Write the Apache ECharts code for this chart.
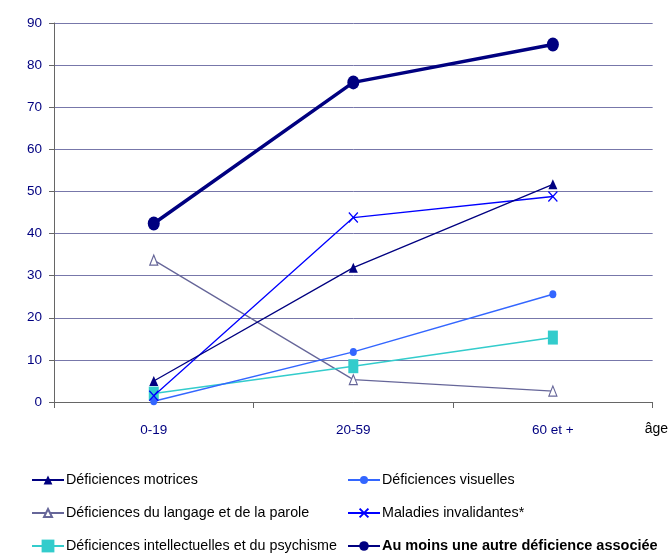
<!DOCTYPE html>
<html><head><meta charset="utf-8">
<script src="https://cdn.jsdelivr.net/npm/echarts@6/dist/echarts.min.js"></script>
<style>html,body{margin:0;padding:0;background:#fff}#c{width:671px;height:555px}</style>
</head><body><div id="c"></div>
<script>
const categories = ['0-19', '20-59', '60 et +'];
const yTicks = [0, 10, 20, 30, 40, 50, 60, 70, 80, 90];
const motrices = [5, 31.9, 51.7];
const visuelles = [0.2, 11.9, 25.6];
const langage = [33.7, 5.3, 2.6];
const maladies = [1.5, 43.8, 48.8];
const intellectuelles = [2, 8.5, 15.3];
const auMoins = [42.4, 75.9, 84.9];
const names = ['Déficiences motrices', 'Déficiences visuelles', 'Déficiences du langage et de la parole',
  'Maladies invalidantes*', 'Déficiences intellectuelles et du psychisme', 'Au moins une autre déficience associée'];

const FONT = '"Liberation Sans", Arial, sans-serif';
const crossPath = 'path://M0,0 L10,10 M10,0 L0,10';
function lg(name, left, cy, h, bold) {
  return {left: left, top: cy - 9, itemWidth: 32, itemHeight: h, padding: 0,
    textStyle: {fontFamily: FONT, fontSize: bold ? 14.5 : 14.3, lineHeight: 18, height: 18, color: '#000',
      fontWeight: bold ? 'bold' : 'normal', padding: [0, 0, 0, -3]},
    data: [name]};
}
const chart = echarts.init(document.getElementById('c'), null, {renderer: 'canvas'});
chart.setOption({
  animation: false,
  backgroundColor: '#fff',
  textStyle: {fontFamily: FONT},
  grid: {left: 54, right: 17, top: 23, bottom: 153},
  legend: [
    lg(names[0], 31, 480, 11), lg(names[2], 31, 513, 10), lg(names[4], 31, 546, 16),
    lg(names[1], 347, 480, 10), lg(names[3], 347, 513, 11), lg(names[5], 347, 546, 12, true)
  ],
  xAxis: {
    type: 'category', data: categories, boundaryGap: true,
    name: 'âge', nameLocation: 'end', nameGap: -8,
    nameTextStyle: {fontFamily: FONT, fontSize: 14, color: '#000', align: 'left', verticalAlign: 'top', padding: [20, 0, 0, 0]},
    axisLine: {lineStyle: {color: '#666', width: 1}},
    axisTick: {show: true, inside: false, length: 6, lineStyle: {color: '#666'}},
    axisLabel: {color: '#000080', fontSize: 13.5, margin: 21, fontFamily: FONT},
    splitLine: {show: false}
  },
  yAxis: {
    type: 'value', min: 0, max: 90, interval: 10,
    axisLine: {show: true, lineStyle: {color: '#666', width: 1}},
    axisTick: {show: true, length: 5, lineStyle: {color: '#666'}},
    axisLabel: {color: '#000080', fontSize: 13.5, margin: 12, fontFamily: FONT,
      formatter: v => yTicks.includes(v) ? String(v) : ''},
    splitLine: {show: true, lineStyle: {color: '#7777aa', width: 1}}
  },
  series: [
    {name: names[2], type: 'line', data: langage, symbol: 'triangle', symbolSize: [8, 10],
     lineStyle: {color: '#666699', width: 1.3}, itemStyle: {color: '#fff', borderColor: '#666699', borderWidth: 1.2}, z: 2},
    {name: names[4], type: 'line', data: intellectuelles, symbol: 'rect', symbolSize: [10, 14],
     lineStyle: {color: '#33CCCC', width: 1.5}, itemStyle: {color: '#33CCCC'}, z: 2},
    {name: names[1], type: 'line', data: visuelles, symbol: 'circle', symbolSize: [7, 8],
     lineStyle: {color: '#3366FF', width: 1.5}, itemStyle: {color: '#3366FF'}, z: 3},
    {name: names[3], type: 'line', data: maladies, symbol: crossPath, symbolSize: [9, 10],
     lineStyle: {color: '#0000FF', width: 1.3}, itemStyle: {color: 'rgba(0,0,0,0)', borderColor: '#0000FF', borderWidth: 1.3}, z: 3},
    {name: names[0], type: 'line', data: motrices, symbol: 'triangle', symbolSize: [9, 10],
     lineStyle: {color: '#000080', width: 1.3}, itemStyle: {color: '#000080'}, z: 4},
    {name: names[5], type: 'line', data: auMoins, symbol: 'circle', symbolSize: [12, 14],
     lineStyle: {color: '#000080', width: 3.5}, itemStyle: {color: '#000080'}, z: 5}
  ]
});
</script></body></html>
